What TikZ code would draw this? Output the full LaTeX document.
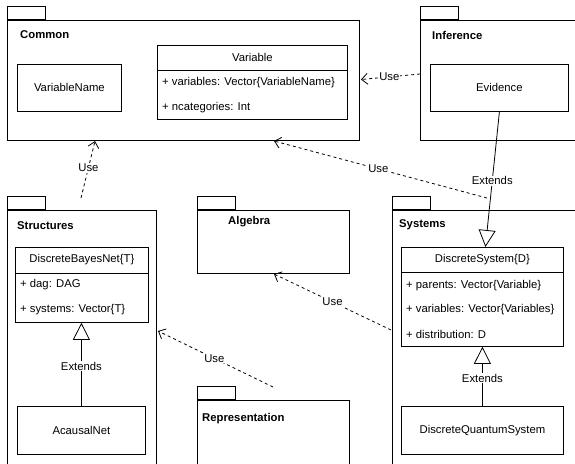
\documentclass[tikz,border=0pt]{standalone}
\usepackage{fontspec}
\setmainfont{Liberation Sans}
\usetikzlibrary{arrows.meta}

\begin{document}
\begin{tikzpicture}[x=1pt,y=-1pt,
    font=\fontsize{11.3}{13.5}\selectfont,
    pkg/.style={draw,line width=0.9pt,inner sep=0pt,anchor=north west},
    pkgtab/.style={draw,line width=0.9pt,inner sep=0pt,minimum width=38pt,minimum height=13pt,anchor=south west},
    pkgname/.style={font=\fontsize{11.3}{13.5}\selectfont\bfseries,anchor=west,inner sep=0pt},
    cls/.style={draw,line width=0.8pt,inner sep=0pt,anchor=north west},
    attr/.style={anchor=west,inner sep=0pt},
    use/.style={dash pattern=on 3pt off 3pt,line width=0.8pt,-{Straight Barb[length=6pt,width=11pt]}},
    extends/.style={line width=0.8pt,-{Triangle[open,length=17pt,width=17pt]}},
    lbl/.style={fill=white,inner sep=1pt}]
            \useasboundingbox (0,0) rectangle (575,463);
            \clip (0,0) rectangle (575,463);

            % packages
            \node[pkg,minimum width=352pt,minimum height=120pt] (common) at (7,20){};
            \node[pkgtab] (commontab) at (common.north west){};
            \node[pkgname] (commonname) at (20,35){Common};

            \node[pkg,minimum width=200pt,minimum height=120pt] (inference) at (420,20){};
            \node[pkgtab] (inferencetab) at (inference.north west){};
            \node[pkgname] (inferencename) at (432,35){Inference};

            \node[pkg,minimum width=149pt,minimum height=300pt] (structures) at (7,210){};
            \node[pkgtab] (structurestab) at (structures.north west){};
            \node[pkgname] (structuresname) at (17,226){Structures};

            \node[pkg,minimum width=152pt,minimum height=63pt] (algebra) at (197,210){};
            \node[pkgtab] (algebratab) at (algebra.north west){};
            \node[pkgname] (algebraname) at (228,222){Algebra};

            \node[pkg,minimum width=230pt,minimum height=300pt] (systems) at (392,210){};
            \node[pkgtab] (systemstab) at (systems.north west){};
            \node[pkgname] (systemsname) at (399,225){Systems};

            \node[pkg,minimum width=152pt,minimum height=100pt] (representation) at (197,400){};
            \node[pkgtab] (representationtab) at (representation.north west){};
            \node[pkgname] (representationname) at (202,419){Representation};

            % classes
            \node[cls,minimum width=104pt,minimum height=47pt] (variablename) at (17,64){};
            \node (variablenametxt) at (variablename.center){VariableName};

            \node[cls,minimum width=190pt,minimum height=74pt] (variable) at (157,45){};
            \draw[line width=0.8pt] ([yshift=-25pt]variable.north west) -- ([yshift=-25pt]variable.north east);
            \node (variabletxt) at ([yshift=-12.5pt]variable.north){Variable};
            \node[attr] (variablea1) at (162,83){+ variables: Vector\{VariableName\}};
            \node[attr] (variablea2) at (162,108){+ ncategories: Int};

            \node[cls,minimum width=138pt,minimum height=47pt] (evidence) at (430,64){};
            \node (evidencetxt) at (evidence.center){Evidence};

            \node[cls,minimum width=133pt,minimum height=75pt] (bayesnet) at (15,247){};
            \draw[line width=0.8pt] ([yshift=-26pt]bayesnet.north west) -- ([yshift=-26pt]bayesnet.north east);
            \node (bayesnettxt) at ([yshift=-13pt]bayesnet.north){DiscreteBayesNet\{T\}};
            \node[attr] (bayesneta1) at (20,285){+ dag: DAG};
            \node[attr] (bayesneta2) at (20,310){+ systems: Vector\{T\}};

            \node[cls,minimum width=128pt,minimum height=48pt] (acausal) at (17,406){};
            \node (acausaltxt) at (acausal.center){AcausalNet};

            \node[cls,minimum width=162pt,minimum height=99pt] (dsystem) at (401,247){};
            \draw[line width=0.8pt] ([yshift=-25pt]dsystem.north west) -- ([yshift=-25pt]dsystem.north east);
            \node (dsystemtxt) at ([yshift=-12.5pt]dsystem.north){DiscreteSystem\{D\}};
            \node[attr] (dsystema1) at (406,286){+ parents: Vector\{Variable\}};
            \node[attr] (dsystema2) at (406,310){+ variables: Vector\{Variables\}};
            \node[attr] (dsystema3) at (406,334){+ distribution: D};

            \node[cls,minimum width=162pt,minimum height=48pt] (dqsystem) at (401,406){};
            \node (dqsystemtxt) at (dqsystem.center){DiscreteQuantumSystem};

            % connector ends
            \coordinate (infL) at (420,74);
            \coordinate (comR) at (361,79.5);
            \coordinate (strT) at (81,198);
            \coordinate (comB1) at (95,141);
            \coordinate (sysT) at (487,198);
            \coordinate (comB2) at (274,141);
            \coordinate (sysL) at (391,330);
            \coordinate (algB) at (274,274);
            \coordinate (repT) at (273,387);
            \coordinate (strR) at (158,331);

            \draw[use] (infL) -- node[lbl,pos=0.52]{Use} (comR);
            \draw[use] (strT) -- node[lbl,pos=0.53]{Use} (comB1);
            \draw[use] (sysT) -- node[lbl,pos=0.51]{Use} (comB2);
            \draw[use] (sysL) -- node[lbl,pos=0.5]{Use} (algB);
            \draw[use] (repT) -- node[lbl,pos=0.51]{Use} (strR);

            \draw[extends] (evidence.south) -- node[lbl,pos=0.51]{Extends} ([xshift=3pt]dsystem.north);
            \draw[extends] (acausal.north) -- node[lbl,pos=0.48]{Extends} (acausal.north |- bayesnet.south);
            \draw[extends] (dqsystem.north) -- node[lbl,pos=0.47]{Extends} (dqsystem.north |- dsystem.south);
        \end{tikzpicture}
\end{document}
